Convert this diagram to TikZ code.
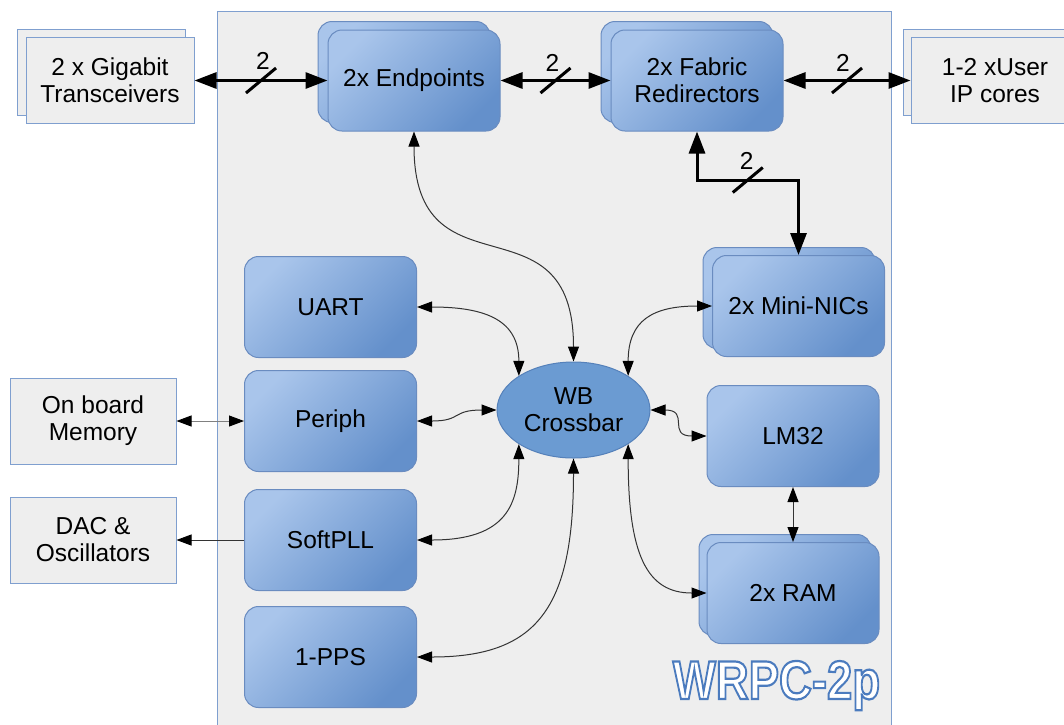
\documentclass[tikz,border=0pt]{standalone}
\usepackage{fontspec}
\setmainfont{Liberation Sans}
\usetikzlibrary{arrows.meta,calc,shapes.geometric}
\definecolor{boxlight}{HTML}{A9C5EB}
\definecolor{boxdark}{HTML}{6490CB}
\definecolor{boxedge}{HTML}{6A8CC0}
\definecolor{panelgrey}{HTML}{EEEEEE}
\definecolor{panedge}{HTML}{7F9FCF}
\definecolor{xbfill}{HTML}{6B9BD2}
\definecolor{xbedge}{HTML}{5581BA}
\definecolor{lineg}{HTML}{333333}
\definecolor{titleedge}{HTML}{4B7BBE}
\newcommand{\outlinedtext}[1]{{\color{white}\special{pdf:literal direct 2 Tr 2.2 w 0.294 0.482 0.745 RG}#1\special{pdf:literal direct 0 Tr}}}
\begin{document}
\begin{tikzpicture}[x=1pt,y=-1pt,
  txt/.style={font=\fontsize{24.5}{27}\selectfont, align=center, text=black},
  blk/.style={txt, rounded corners=14pt, draw=boxedge, line width=1pt,
    top color=boxlight, bottom color=boxdark, shading angle=45,
    minimum width=172pt, minimum height=101pt, inner sep=0pt},
  ext/.style={txt, draw=panedge, fill=panelgrey, line width=1pt,
    minimum width=168pt, minimum height=86pt, inner sep=0pt},
  busarrow/.style={line width=3pt, {Triangle[length=22pt,width=16pt]}-{Triangle[length=22pt,width=16pt]}},
  wbarrow/.style={draw=lineg, line width=1pt, {Triangle[length=15pt,width=11pt,color=black]}-{Triangle[length=15pt,width=11pt,color=black]}},
  slash/.style={line width=3pt},
]
\useasboundingbox (0,0) rectangle (1064,724);
\clip (0,0) rectangle (1064,724);
\fill[white] (0,0) rectangle (1064,724);

% container
\node[draw=panedge, fill=panelgrey, line width=1pt, minimum width=674pt, minimum height=729pt,
  inner sep=0pt, anchor=north west] (wrpc) at (217,11) {};

% external boxes
\node[ext] (gtb) at (101,72) {};
\node[ext] (gtf) at (110,80.5) {2 x Gigabit\\Transceivers};
\node[ext] (uib) at (987,72) {};
\node[ext] (uif) at (995,80.5) {1-2 xUser\\IP cores};
\node[ext, minimum width=166pt] (mem) at (93,421) {On board\\Memory};
\node[ext, minimum width=166pt] (dac) at (93,540) {DAC \&\\Oscillators};

% internal blocks
\node[blk] (epb) at (404,72) {};
\node[blk] (epf) at (414,80.5) {2x Endpoints};
\node[blk] (frb) at (687,72) {};
\node[blk] (frf) at (697,80.5) {2x Fabric\\Redirectors};
\node[blk] (mnb) at (789,298) {};
\node[blk] (mnf) at (798.5,306) {2x Mini-NICs};
\node[blk] (uart) at (330.5,307) {UART};
\node[blk] (per) at (330.5,421) {Periph};
\node[blk] (pll) at (330.5,540) {SoftPLL};
\node[blk] (pps) at (330.5,657) {1-PPS};
\node[blk] (lm) at (793,436) {LM32};
\node[blk] (ramb) at (785,585) {};
\node[blk] (ramf) at (793,593) {2x RAM};

\node[txt, ellipse, draw=xbedge, fill=xbfill, line width=1pt, minimum width=153pt,
  minimum height=96pt, inner sep=0pt] (xb) at (573.5,410) {WB\\Crossbar};

% bus arrows
\draw[busarrow] (gtf.east) -- (epf.west);
\draw[busarrow] (epf.east) -- (frf.west);
\draw[busarrow] (frf.east) -- (uif.west);
\coordinate (busy) at ($(mnf.north)+(0,-75)$);
\draw[busarrow] (frf.south) |- (busy) -- (mnf.north);

\draw[slash] ($(gtf.east)!0.5!(epf.west)+(-15,12.5)$) -- ++(30,-25);
\draw[slash] ($(epf.east)!0.5!(frf.west)+(-15,12.5)$) -- ++(30,-25);
\draw[slash] ($(frf.east)!0.5!(uif.west)+(-15,12.5)$) -- ++(30,-25);
\draw[slash] ($(frf.south |- busy)!0.5!(busy)+(-15,12.5)$) -- ++(30,-25);
\node[txt] (l1) at ($(gtf.east)!0.5!(epf.west)+(2,-20)$) {2};
\node[txt] (l2) at ($(epf.east)!0.5!(frf.west)+(-3,-18)$) {2};
\node[txt] (l3) at ($(frf.east)!0.5!(uif.west)+(-4,-18)$) {2};
\node[txt] (l4) at ($(frf.south |- busy)!0.5!(busy)+(-1,-19)$) {2};

% crossbar connections
\draw[wbarrow] (epf.south) .. controls +(0,170) and +(0,-170) .. (xb.north);
\draw[wbarrow] (uart.east) .. controls +(70,0) and +(0,-55) .. (xb.148);
\draw[wbarrow] (mnf.west) .. controls +(-60,0) and +(0,-55) .. (xb.32);
\draw[wbarrow] (per.east) .. controls +(45,0) and +(-45,0) .. (xb.west);
\draw[wbarrow] (xb.east) .. controls +(40,0) and +(-40,0) .. (lm.west);
\draw[wbarrow] (pll.east) .. controls +(90,0) and +(0,60) .. (xb.212);
\draw[wbarrow] (pps.east) .. controls +(120,0) and +(0,150) .. (xb.south);
\draw[wbarrow] (xb.328) .. controls +(0,110) and +(-60,0) .. (ramf.west);
\draw[wbarrow] (lm.south) -- (ramf.north);

% external thin arrows
\draw[wbarrow, draw=gray] (mem.east) -- (per.west);
\draw[draw=lineg, line width=1pt, -{Triangle[length=15pt,width=11pt,color=black]}] (pll.west) -- (dac.east);

% title
\node[anchor=base, font=\fontsize{54.5}{54.5}\selectfont\bfseries, inner sep=0pt]
  (title) at (776.5,699) {\scalebox{0.835}[1]{\outlinedtext{WRPC-2p}}};
\end{tikzpicture}
\end{document}
